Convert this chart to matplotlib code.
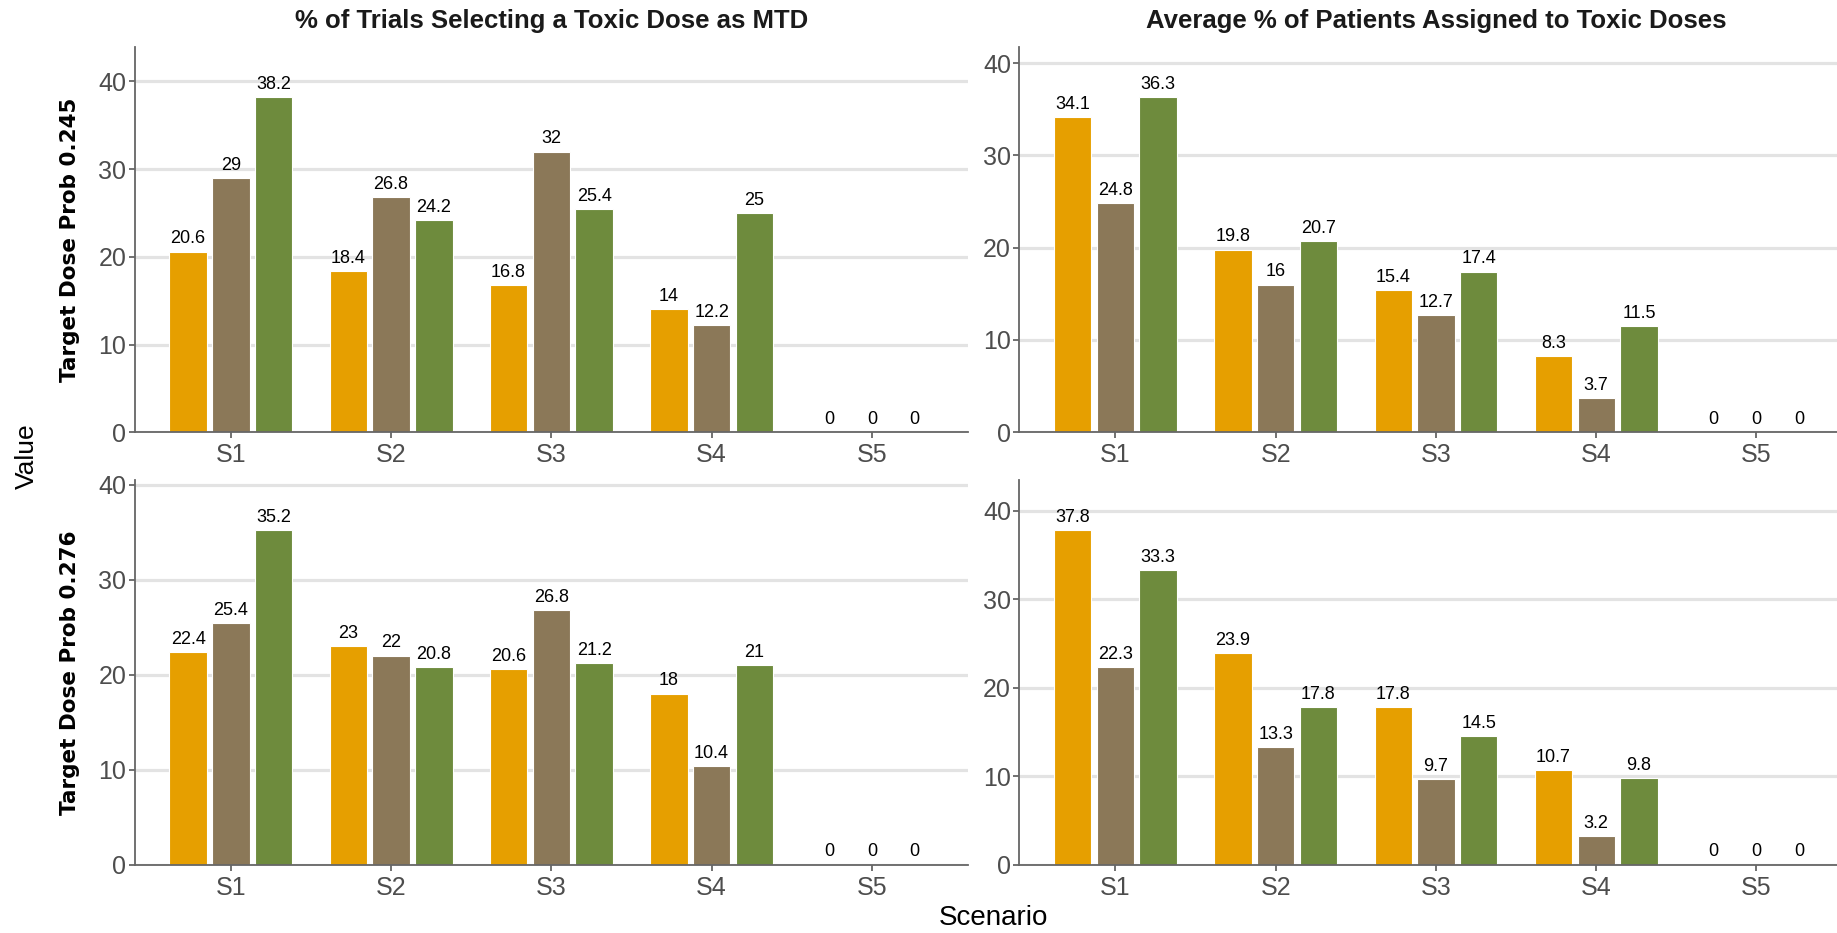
import numpy as np
import matplotlib
matplotlib.use("Agg")
import matplotlib.pyplot as plt

plt.rcParams['font.family'] = ['Liberation Sans', 'DejaVu Sans']

# ===== data =====
scenarios = ["S1", "S2", "S3", "S4", "S5"]
series_colors = ["#E69F00", "#8B7858", "#6E8B3D"]   # orange, brown, green

col_titles = ["% of Trials Selecting a Toxic Dose as MTD",
              "Average % of Patients Assigned to Toxic Doses"]
row_titles = ["Target Dose Prob 0.245", "Target Dose Prob 0.276"]

# top row (0.245)
trials_245_orange = [20.6, 18.4, 16.8, 14, 0]
trials_245_brown = [29, 26.8, 32, 12.2, 0]
trials_245_green = [38.2, 24.2, 25.4, 25, 0]

patients_245_orange = [34.1, 19.8, 15.4, 8.3, 0]
patients_245_brown = [24.8, 16, 12.7, 3.7, 0]
patients_245_green = [36.3, 20.7, 17.4, 11.5, 0]

# bottom row (0.276)
trials_276_orange = [22.4, 23, 20.6, 18, 0]
trials_276_brown = [25.4, 22, 26.8, 10.4, 0]
trials_276_green = [35.2, 20.8, 21.2, 21, 0]

patients_276_orange = [37.8, 23.9, 17.8, 10.7, 0]
patients_276_brown = [22.3, 13.3, 9.7, 3.2, 0]
patients_276_green = [33.3, 17.8, 14.5, 9.8, 0]

panels = [
    [(trials_245_orange, trials_245_brown, trials_245_green),
     (patients_245_orange, patients_245_brown, patients_245_green)],
    [(trials_276_orange, trials_276_brown, trials_276_green),
     (patients_276_orange, patients_276_brown, patients_276_green)],
]

# ===== layout (pixel based, 1837x933 @ 100 dpi) =====
W, H = 1837, 933
fig = plt.figure(figsize=(W / 100, H / 100), dpi=100)

col_x = [134.7, 1019.3]
panel_w = 833.3
row_top = [46.9, 480.0]
row_bot = [432.3, 864.6]

AX_COL = "#666666"
x = np.arange(len(scenarios))
bw = 0.7 / 3
offs = [-0.8 / 3, 0, 0.8 / 3]

for r in range(2):
    for c in range(2):
        ax = fig.add_axes([col_x[c] / W, 1 - row_bot[r] / H,
                           panel_w / W, (row_bot[r] - row_top[r]) / H])
        groups = panels[r][c]
        for vals, col, off in zip(groups, series_colors, offs):
            bars = ax.bar(x + off, vals, bw, color=col, edgecolor='white',
                          linewidth=0.8, zorder=2)
            ax.bar_label(bars, labels=[f"{v:g}" for v in vals], padding=3,
                         fontsize=13, color='black')
        ymax = max(max(g) for g in groups) * 1.15
        ax.set_ylim(0, ymax)
        ax.set_xlim(-0.6, len(scenarios) - 0.4)
        ax.set_xticks(x)
        ax.set_xticklabels(scenarios)
        ax.set_yticks([0, 10, 20, 30, 40])
        ax.yaxis.grid(True, color="#E3E3E3", lw=2.3, zorder=0)
        ax.set_axisbelow(True)
        for s in ['top', 'right']:
            ax.spines[s].set_visible(False)
        for s in ['left', 'bottom']:
            ax.spines[s].set_color(AX_COL)
            ax.spines[s].set_linewidth(1.3)
        ax.tick_params(axis='both', colors=AX_COL, labelcolor='#4D4D4D',
                       labelsize=18, length=4, width=1.3)
        ax.tick_params(axis='x', pad=4)
        ax.tick_params(axis='y', pad=2)

        if r == 0:
            fig.text((col_x[c] + panel_w / 2) / W, 1 - 21 / H, col_titles[c],
                     ha='center', va='center', fontsize=18.5, fontweight='bold',
                     color='#1A1A1A')
    fig.text(70 / W, 1 - (row_top[r] + row_bot[r]) / 2 / H, row_titles[r],
             rotation=90, ha='center', va='center', fontsize=15.5,
             fontweight='bold', family=['DejaVu Sans'], color='black')

fig.text(27 / W, 1 - 455.7 / H, "Value", rotation=90, ha='center',
         va='center', fontsize=19)
fig.text(993 / W, 1 - 918 / H, "Scenario", ha='center', va='center',
         fontsize=20)

fig.savefig("out.png", dpi=100)
